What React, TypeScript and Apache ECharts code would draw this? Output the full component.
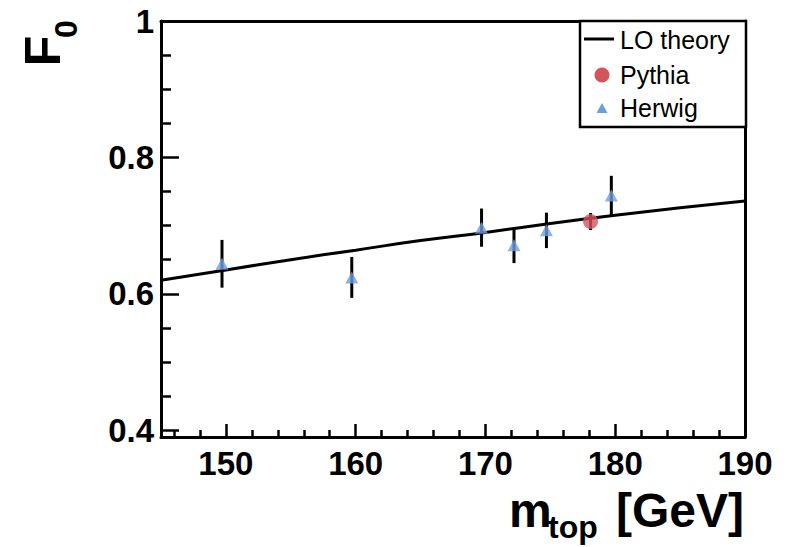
import React, { useEffect, useRef } from "react";
import * as echarts from "echarts";

// ---- data ----
const herwigMass = [149.7, 159.7, 169.7, 172.2, 174.7, 179.7];
const herwigF0 = [0.644, 0.624, 0.697, 0.671, 0.693, 0.744];
const herwigErr = [0.035, 0.030, 0.028, 0.026, 0.026, 0.029];

const pythiaMass = [178.1];
const pythiaF0 = [0.706];
const pythiaErr = [0.0125];

const theoryMass = [145, 150, 155, 160, 165, 170, 175, 180, 185, 190];
const theoryF0 = [0.62, 0.635, 0.65, 0.664, 0.678, 0.69, 0.703, 0.715, 0.726, 0.736];

const xMajorTicks = [150, 160, 170, 180, 190];
const xMinorTicks = [146, 148, 152, 154, 156, 158, 162, 164, 166, 168, 172, 174, 176, 178, 182, 184, 186, 188];
const yMajorTicks = [0.4, 0.6, 0.8, 1.0];
const yMinorTicks = [0.45, 0.5, 0.55, 0.65, 0.7, 0.75, 0.85, 0.9, 0.95];

const legendLabels = ["LO theory", "Pythia", "Herwig"];

const FONT = '"Liberation Sans", Arial, Helvetica, sans-serif';
const RED = "#d4545e";
const BLUE = "#6f9de3";

export default function App() {
  const ref = useRef<HTMLDivElement>(null);

  useEffect(() => {
    if (!ref.current) return;
    const chart = echarts.init(ref.current, null, { renderer: "svg" });

    const errRender = (params: any, api: any) => {
      const x = api.value(0);
      const y = api.value(1);
      const e = api.value(2);
      const p1 = api.coord([x, y - e]);
      const p2 = api.coord([x, y + e]);
      return {
        type: "line",
        shape: { x1: p1[0], y1: p1[1], x2: p2[0], y2: p2[1] },
        style: { stroke: "#000", lineWidth: 3 },
      };
    };

    const axisLineStyle = { color: "#000", width: 3 };

    chart.setOption({
      animation: false,
      grid: { left: 161, right: 42, top: 21, bottom: 110 },
      xAxis: [
        {
          type: "value", min: 145, max: 190, position: "bottom",
          axisLine: { show: true, lineStyle: axisLineStyle },
          axisTick: { show: true, inside: true, length: 13, lineStyle: { color: "#000", width: 2.5 }, customValues: xMajorTicks },
          axisLabel: { show: true, customValues: xMajorTicks, margin: 10, color: "#000", fontFamily: FONT, fontWeight: "bold", fontSize: 33 },
          splitLine: { show: false },
        },
        {
          type: "value", min: 145, max: 190, position: "bottom",
          axisLine: { show: false },
          axisTick: { show: true, inside: true, length: 7, lineStyle: { color: "#000", width: 2.5 }, customValues: xMinorTicks },
          axisLabel: { show: false },
          splitLine: { show: false },
        },
        {
          type: "value", min: 145, max: 190, position: "top",
          axisLine: { show: true, lineStyle: axisLineStyle },
          axisTick: { show: false }, axisLabel: { show: false }, splitLine: { show: false },
        },
      ],
      yAxis: [
        {
          type: "value", min: 0.39, max: 1.0, position: "left",
          axisLine: { show: true, lineStyle: axisLineStyle },
          axisTick: { show: true, inside: true, length: 18, lineStyle: { color: "#000", width: 2.5 }, customValues: yMajorTicks },
          axisLabel: {
            show: true, customValues: yMajorTicks, margin: 7, color: "#000", fontFamily: FONT, fontWeight: "bold", fontSize: 33,
            formatter: (v: number) => (Math.abs(v - 1) < 1e-9 ? "1" : v.toFixed(1)),
          },
          splitLine: { show: false },
        },
        {
          type: "value", min: 0.39, max: 1.0, position: "left",
          axisLine: { show: false },
          axisTick: { show: true, inside: true, length: 10, lineStyle: { color: "#000", width: 2.5 }, customValues: yMinorTicks },
          axisLabel: { show: false },
          splitLine: { show: false },
        },
        {
          type: "value", min: 0.39, max: 1.0, position: "right",
          axisLine: { show: true, lineStyle: axisLineStyle },
          axisTick: { show: false }, axisLabel: { show: false }, splitLine: { show: false },
        },
      ],
      series: [
        {
          name: legendLabels[0],
          type: "line",
          smooth: true,
          symbol: "none",
          data: theoryMass.map((m, i) => [m, theoryF0[i]]),
          lineStyle: { color: "#000", width: 3 },
          z: 2,
        },
        {
          type: "custom",
          renderItem: errRender,
          data: herwigMass.map((m, i) => [m, herwigF0[i], herwigErr[i]]),
          z: 3,
        },
        {
          type: "custom",
          renderItem: errRender,
          data: pythiaMass.map((m, i) => [m, pythiaF0[i], pythiaErr[i]]),
          z: 3,
        },
        {
          name: legendLabels[2],
          type: "scatter",
          symbol: "triangle",
          symbolSize: [13, 12],
          itemStyle: { color: BLUE },
          data: herwigMass.map((m, i) => [m, herwigF0[i]]),
          z: 4,
        },
        {
          name: legendLabels[1],
          type: "scatter",
          symbol: "circle",
          symbolSize: 15,
          itemStyle: { color: RED },
          data: pythiaMass.map((m, i) => [m, pythiaF0[i]]),
          z: 4,
        },
      ],
      graphic: [
        // legend box
        { type: "rect", shape: { x: 580, y: 21, width: 166, height: 106 }, style: { fill: "#fff", stroke: "#000", lineWidth: 2.5 }, z: 10 },
        { type: "line", shape: { x1: 584, y1: 39, x2: 614, y2: 39 }, style: { stroke: "#000", lineWidth: 3 }, z: 11 },
        { type: "text", x: 620, y: 40, style: { text: legendLabels[0], font: `25px ${FONT}`, fill: "#000", align: "left", verticalAlign: "middle" }, z: 11 },
        { type: "circle", shape: { cx: 602, cy: 75, r: 7.5 }, style: { fill: RED }, z: 11 },
        { type: "text", x: 620, y: 75, style: { text: legendLabels[1], font: `25px ${FONT}`, fill: "#000", align: "left", verticalAlign: "middle" }, z: 11 },
        { type: "polygon", shape: { points: [[596.5, 113], [607.5, 113], [602, 103]] }, style: { fill: BLUE }, z: 11 },
        { type: "text", x: 620, y: 108, style: { text: legendLabels[2], font: `25px ${FONT}`, fill: "#000", align: "left", verticalAlign: "middle" }, z: 11 },
        // y axis title F0
        { type: "text", x: 43, y: 51, rotation: Math.PI / 2, style: { text: "F", font: `bold 50px ${FONT}`, fill: "#000", align: "center", verticalAlign: "middle" } },
        { type: "text", x: 66, y: 29, rotation: Math.PI / 2, style: { text: "0", font: `bold 32px ${FONT}`, fill: "#000", align: "center", verticalAlign: "middle" } },
        // x axis title m_top [GeV]
        { type: "text", x: 509, y: 510, style: { text: "m", font: `bold 48px ${FONT}`, fill: "#000", align: "left", verticalAlign: "middle" } },
        { type: "text", x: 548, y: 527, style: { text: "top", font: `bold 32px ${FONT}`, fill: "#000", align: "left", verticalAlign: "middle" } },
        { type: "text", x: 744, y: 510, style: { text: "[GeV]", font: `bold 48px ${FONT}`, fill: "#000", align: "right", verticalAlign: "middle" } },
      ],
    });

    return () => chart.dispose();
  }, []);

  return (
    <div
      ref={ref}
      style={{ position: "fixed", left: 0, top: 0, width: 787, height: 547, background: "#fff" }}
    />
  );
}
